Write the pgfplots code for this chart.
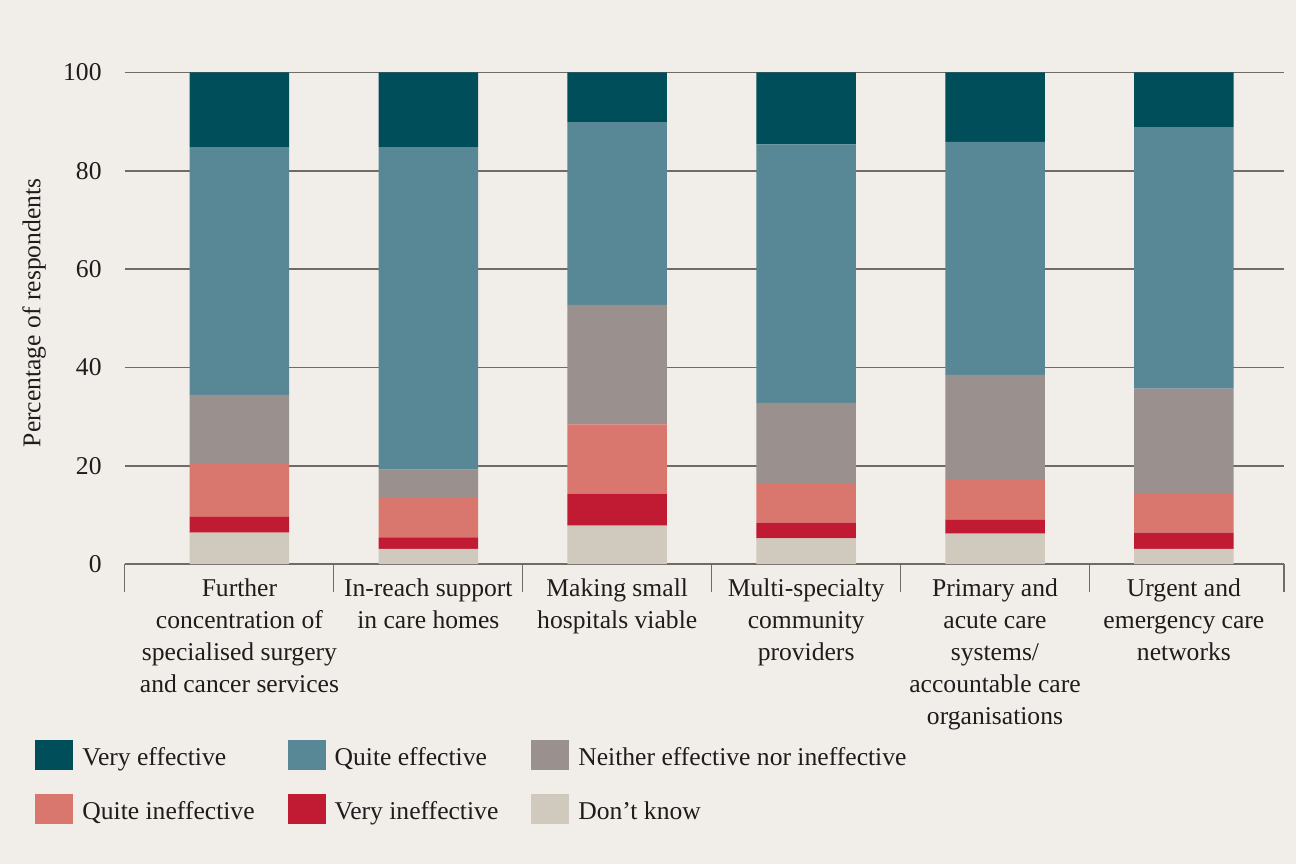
\documentclass[border=0pt]{standalone}
\usepackage{fontspec}
\setmainfont{Liberation Serif}
\usepackage{pgfplots}
\usepackage{pgfplotstable}
\pgfplotsset{compat=1.18}
\definecolor{bgc}{RGB}{241,238,233}
\definecolor{cve}{RGB}{1,78,91}
\definecolor{cqe}{RGB}{88,136,149}
\definecolor{cne}{RGB}{154,144,142}
\definecolor{cqi}{RGB}{217,118,109}
\definecolor{cvi}{RGB}{192,27,51}
\definecolor{cdk}{RGB}{208,201,190}
\definecolor{gridc}{RGB}{112,107,103}
\definecolor{txt}{RGB}{30,28,28}
\newcommand{\lf}{\fontsize{12.8bp}{16bp}\selectfont}
\pgfplotstableread{
x dk vi qi ne qe ve
0 6.4 3.2 10.7 14.1 50.4 15.2
1 3.1 2.3 8.0 5.8 65.6 15.2
2 7.8 6.5 14.1 24.3 37.2 10.1
3 5.2 3.2 7.9 16.5 52.6 14.6
4 6.2 2.8 8.1 21.4 47.4 14.1
5 3.1 3.3 7.8 21.5 53.2 11.1
}\datatable
\begin{document}
\begin{tikzpicture}
\fill[bgc] (-62.3bp,-150bp) rectangle (585.7bp,282bp);
\begin{axis}[
  at={(0,0)}, anchor=south west,
  scale only axis, width=579.7bp, height=245.75bp,
  xmin=-0.608, xmax=5.53, ymin=0, ymax=100,
  ybar stacked, bar width=49.75bp,
  axis line style={draw=none},
  major tick length=0pt,
  xtick={0,1,2,3,4,5},
  xticklabels={{Further\\concentration of\\specialised surgery\\and cancer services},
    {In-reach support\\in care homes},
    {Making small\\hospitals viable},
    {Multi-specialty\\community\\providers},
    {Primary and\\acute care\\systems/\\accountable care\\organisations},
    {Urgent and\\emergency care\\networks}},
  xticklabel style={font=\lf, align=center, anchor=north, yshift=-4bp, text=txt},
  extra x ticks={-0.608,0.5,1.5,2.5,3.5,4.5,5.53},
  extra x tick labels={},
  extra x tick style={major tick length=14bp, tick align=outside, tick style={draw=gridc, line width=0.6bp}, grid=none},
  xtick pos=bottom, ytick pos=left,
  ytick={0,20,40,60,80,100},
  yticklabel style={font=\lf, text=txt, xshift=-8bp},
  /pgf/number format/assume math mode=true,
  ymajorgrids, grid style={draw=gridc, line width=0.9bp},
  ylabel={Percentage of respondents},
  ylabel style={font=\lf, text=txt, at={(axis description cs:-0.0781,0.511)}, anchor=center},
  legend columns=3, reverse legend,
  legend image code/.code={\fill[#1] (0bp,-6.2bp) rectangle (19bp,8.8bp);},
  legend style={at={(axis description cs:-0.0773,-0.3581)}, anchor=north west,
    draw=none, fill=none, inner sep=0pt, font=\lf, text=txt, row sep=12bp,
    /tikz/every odd column/.append style={column sep=4.5bp},
    /tikz/every even column/.append style={column sep=16.5bp},
    nodes={inner sep=0pt}},
  legend cell align=left,
]
\addplot[fill=cdk, draw=none] table[x=x,y=dk]{\datatable};
\addplot[fill=cvi, draw=none] table[x=x,y=vi]{\datatable};
\addplot[fill=cqi, draw=none] table[x=x,y=qi]{\datatable};
\addplot[fill=cne, draw=none] table[x=x,y=ne]{\datatable};
\addplot[fill=cqe, draw=none] table[x=x,y=qe]{\datatable};
\addplot[fill=cve, draw=none] table[x=x,y=ve]{\datatable};
\legend{Don’t know, Very ineffective, Quite ineffective, Neither effective nor ineffective, Quite effective, Very effective}
\end{axis}
\end{tikzpicture}
\end{document}
